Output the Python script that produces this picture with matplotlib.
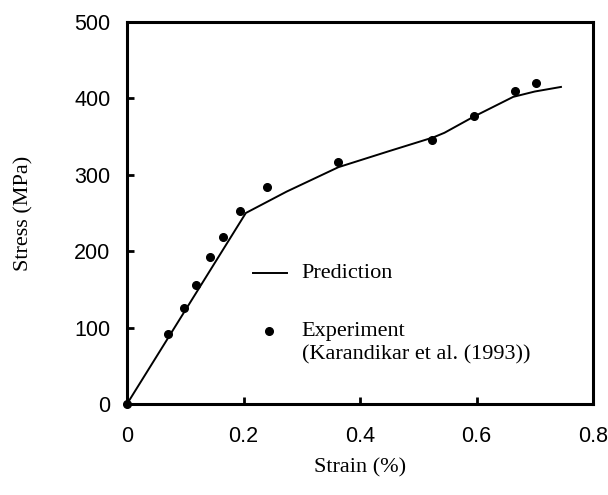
import numpy as np
import matplotlib
matplotlib.use('Agg')
import matplotlib.pyplot as plt

# datos experimentales (Karandikar et al. 1993)
exp_strain = [0.0, 0.071, 0.097, 0.118, 0.1425, 0.165, 0.194, 0.240, 0.363, 0.523, 0.595, 0.666, 0.702]
exp_stress = [0, 92, 126, 156, 193, 219, 253, 284, 317, 345, 377, 410, 420]

# prediccion
pred_strain = [0.0, 0.204, 0.274, 0.363, 0.45, 0.526, 0.545, 0.595, 0.663, 0.70, 0.745]
pred_stress = [0, 250, 278, 310, 331, 349, 355, 376, 402, 409, 415]

serif = 'Liberation Serif'
sans = 'Liberation Sans'

fig = plt.figure(figsize=(6.08, 4.95), dpi=100)
ax = fig.add_axes([127/608, 91/495, 466/608, 382/495])

ax.plot(pred_strain, pred_stress, color='black', lw=1.4)
ax.plot(exp_strain, exp_stress, 'o', color='black', ms=5.5, clip_on=False)

ax.set_xlim(0, 0.8)
ax.set_ylim(0, 500)
ax.set_xticks([0, 0.2, 0.4, 0.6, 0.8])
ax.set_xticklabels(['0', '0.2', '0.4', '0.6', '0.8'])
ax.set_yticks([0, 100, 200, 300, 400, 500])

for s in ax.spines.values():
    s.set_linewidth(2.2)
ax.tick_params(direction='in', length=5, width=2, labelsize=15.5)
ax.tick_params(axis='x', pad=16)
ax.tick_params(axis='y', pad=12)
for lab in ax.get_xticklabels() + ax.get_yticklabels():
    lab.set_family(sans)

ax.set_xlabel('Strain (%)', family=serif, fontsize=16, labelpad=8)
ax.set_ylabel('Stress (MPa)', family=serif, fontsize=16, labelpad=29)

# leyenda manual
ax.plot([0.270, 0.343], [0.342, 0.342], color='black', lw=1.4, transform=ax.transAxes)
ax.text(0.375, 0.342, 'Prediction', family=serif, fontsize=16, va='center', transform=ax.transAxes)
ax.plot([0.305], [0.191], 'o', color='black', ms=5.5, transform=ax.transAxes)
ax.text(0.375, 0.191, 'Experiment', family=serif, fontsize=16, va='center', transform=ax.transAxes)
ax.text(0.375, 0.128, '(Karandikar et al. (1993))', family=serif, fontsize=16, va='center', transform=ax.transAxes)

plt.savefig('out.png', dpi=100)
